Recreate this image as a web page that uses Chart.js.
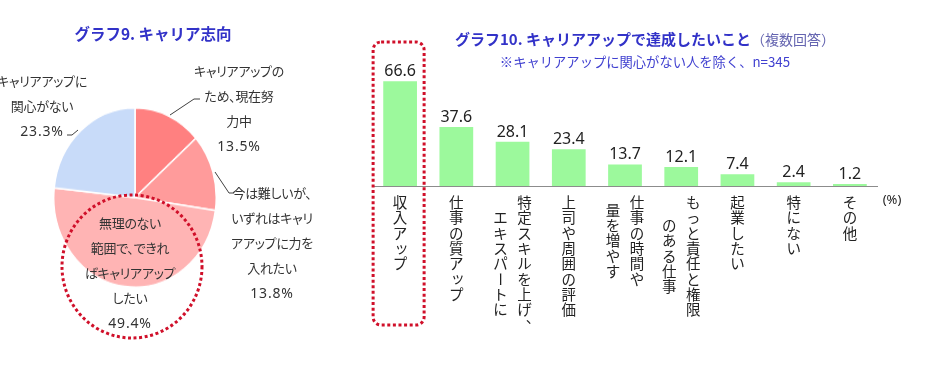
<!DOCTYPE html>
<html lang="ja">
<head>
<meta charset="utf-8">
<script src="https://cdn.jsdelivr.net/npm/chart.js@4.4.1/dist/chart.umd.min.js"></script>
<style>
	body { margin: 0; width: 927px; height: 392px; background: #fff; position: relative; overflow: hidden;
		font-family: "Noto Sans CJK JP", "Noto Sans", sans-serif; color: #333; }
	.abs { position: absolute; }
	#barWrap { left: 0; top: 0; width: 927px; height: 392px; }
	#pieWrap { left: 53px; top: 107px; width: 164px; height: 164px; transform: scaleY(1.104); transform-origin: 0 0; }
	#overlay { left: 0; top: 0; }
	.title { font-weight: bold; font-size: 15px; color: #3232c8; line-height: 20px; white-space: nowrap; }
	.pieLabel { font-size: 13px; line-height: 25px; text-align: center; white-space: nowrap; color: #333;
		font-feature-settings: "palt"; letter-spacing: -0.3px; }
	.pct { font-family: "Noto Sans", sans-serif; font-size: 14px; letter-spacing: 0.8px; }
</style>
</head>
<body>
<div id="barWrap" class="abs"><canvas id="barChart"></canvas></div>
<div id="pieWrap" class="abs"><canvas id="pieChart"></canvas></div>
<svg id="overlay" class="abs" width="927" height="392">
	<ellipse cx="132" cy="266.5" rx="70" ry="71.5" fill="none" stroke="#d0102a" stroke-width="3" stroke-dasharray="3 2.6"/>
	<polyline points="170,115 194,99 200,99" fill="none" stroke="#404040" stroke-width="1"/>
	<polyline points="215,172 229,193 234,193" fill="none" stroke="#404040" stroke-width="1"/>
	<polyline points="67,135 72,135 78,130" fill="none" stroke="#404040" stroke-width="1"/>
</svg>
<div class="abs title" style="left:0;width:306px;top:23px;text-align:center;font-size:15.5px;">グラフ9. キャリア志向</div>
<div class="abs title" style="left:455px;top:29px;">グラフ10. キャリアアップで達成したいこと<span style="font-weight:normal;font-size:14px;color:#6464b0;">（複数回答）</span></div>
<div class="abs" style="left:445px;width:400px;top:52px;text-align:center;font-size:13.3px;color:#4040d0;line-height:20px;">※キャリアアップに関心がない人を除く、n=345</div>
<div id="pieLabels"></div>
<script>
// pie: グラフ9
const pieCategories = [
	["キャリアアップの", "ため、現在努", "力中"],
	["今は難しいが、", "いずれはキャリ", "アアップに力を", "入れたい"],
	["無理のない", "範囲で、できれ", "ばキャリアアップ", "したい"],
	["キャリアアップに", "関心がない"],
];
const pieValues = [13.5, 13.8, 49.4, 23.3];

// bars: グラフ10 (lines are vertical columns, right to left)
const barCategories = [
	["収入アップ"],
	["仕事の質アップ"],
	["特定スキルを上げ、", "エキスパートに"],
	["上司や周囲の評価"],
	["仕事の時間や", "量を増やす"],
	["もっと責任と権限", "のある仕事"],
	["起業したい"],
	["特にない"],
	["その他"],
];
const barValues = [66.6, 37.6, 28.1, 23.4, 13.7, 12.1, 7.4, 2.4, 1.2];

const pieColors = ["#ff8080", "#ff9b9b", "#ffb4b4", "#c8dbf9"];
const pieLabelPos = [[239, 57.5], [272, 179.5], [130, 209.5], [42, 67.5]];

// pie labels as html text
const labelBox = document.getElementById("pieLabels");
pieCategories.forEach((lines, i) => {
	const div = document.createElement("div");
	div.className = "abs pieLabel";
	div.style.left = pieLabelPos[i][0] - 60 + "px";
	div.style.width = "120px";
	div.style.top = pieLabelPos[i][1] + "px";
	div.innerHTML = lines.join("<br>") + '<br><span class="pct">' + pieValues[i].toFixed(1) + "%</span>";
	labelBox.appendChild(div);
});

new Chart(document.getElementById("pieChart"), {
	type: "pie",
	data: {
		labels: pieCategories.map((l) => l.join("")),
		datasets: [{
			data: pieValues,
			backgroundColor: pieColors,
			borderColor: "#ffffff",
			borderWidth: 1.5,
		}],
	},
	options: {
		responsive: true,
		maintainAspectRatio: false,
		animation: false,
		plugins: { legend: { display: false }, tooltip: { enabled: false } },
	},
});

const smallKana = "ッャュョィァ";

function drawVerticalText(ctx, text, x, top, pitch) {
	[...text].forEach((ch, k) => {
		const cy = top + k * pitch + pitch / 2;
		ctx.save();
		if (ch === "ー") {
			ctx.translate(x, cy);
			ctx.rotate(Math.PI / 2);
			ctx.fillText(ch, 0, 0);
		} else if (ch === "、") {
			ctx.fillText(ch, x + pitch * 0.55, cy - pitch * 0.5);
		} else if (smallKana.includes(ch)) {
			ctx.fillText(ch, x + 1.5, cy - 1.5);
		} else {
			ctx.fillText(ch, x, cy);
		}
		ctx.restore();
	});
}

const barDecor = {
	id: "barDecor",
	afterDatasetsDraw(chart) {
		const ctx = chart.ctx;
		const area = chart.chartArea;
		const bars = chart.getDatasetMeta(0).data;
		ctx.save();

		// axis line
		const yb = Math.round(area.bottom) + 0.5;
		ctx.strokeStyle = "#8c8c8c";
		ctx.lineWidth = 1;
		ctx.beginPath();
		ctx.moveTo(area.left, yb);
		ctx.lineTo(area.right, yb);
		ctx.stroke();

		// value labels
		ctx.fillStyle = "#222";
		ctx.font = "16px 'Noto Sans', sans-serif";
		ctx.textAlign = "center";
		ctx.textBaseline = "alphabetic";
		bars.forEach((bar, i) => {
			ctx.fillText(barValues[i].toFixed(1), bar.x, bar.y - 5);
		});

		// vertical category labels
		const pitch = 15.3;
		const colGap = 24;
		ctx.font = "14.5px 'Noto Sans CJK JP', sans-serif";
		ctx.textBaseline = "middle";
		bars.forEach((bar, i) => {
			const cols = barCategories[i];
			const maxLen = Math.max(...cols.map((c) => [...c].length));
			cols.forEach((col, c) => {
				const x = bar.x + ((cols.length - 1) / 2 - c) * colGap;
				const top = area.bottom + 9 + ((maxLen - [...col].length) * pitch) / 2;
				drawVerticalText(ctx, col, x, top, pitch);
			});
		});

		// unit
		ctx.font = "13px 'Noto Sans', sans-serif";
		ctx.fillText("(%)", area.right + 14, area.bottom + 14);

		// dotted highlight around first bar
		const b0 = bars[0];
		ctx.strokeStyle = "#d0102a";
		ctx.lineWidth = 3;
		ctx.setLineDash([3, 2.6]);
		ctx.beginPath();
		ctx.roundRect(b0.x - 27, 42, 51, 283, 8);
		ctx.stroke();
		ctx.restore();
	},
};

new Chart(document.getElementById("barChart"), {
	type: "bar",
	data: {
		labels: barCategories.map((c) => c.join("")),
		datasets: [{
			data: barValues,
			backgroundColor: "#9cf99c",
			categoryPercentage: 1,
			barPercentage: 0.6,
		}],
	},
	options: {
		responsive: true,
		maintainAspectRatio: false,
		animation: false,
		layout: { padding: { left: 372, right: 49, top: 76, bottom: 206 } },
		plugins: { legend: { display: false }, tooltip: { enabled: false } },
		scales: {
			x: { display: false },
			y: { display: false, min: 0, max: 70 },
		},
	},
	plugins: [barDecor],
});
</script>
</body>
</html>
